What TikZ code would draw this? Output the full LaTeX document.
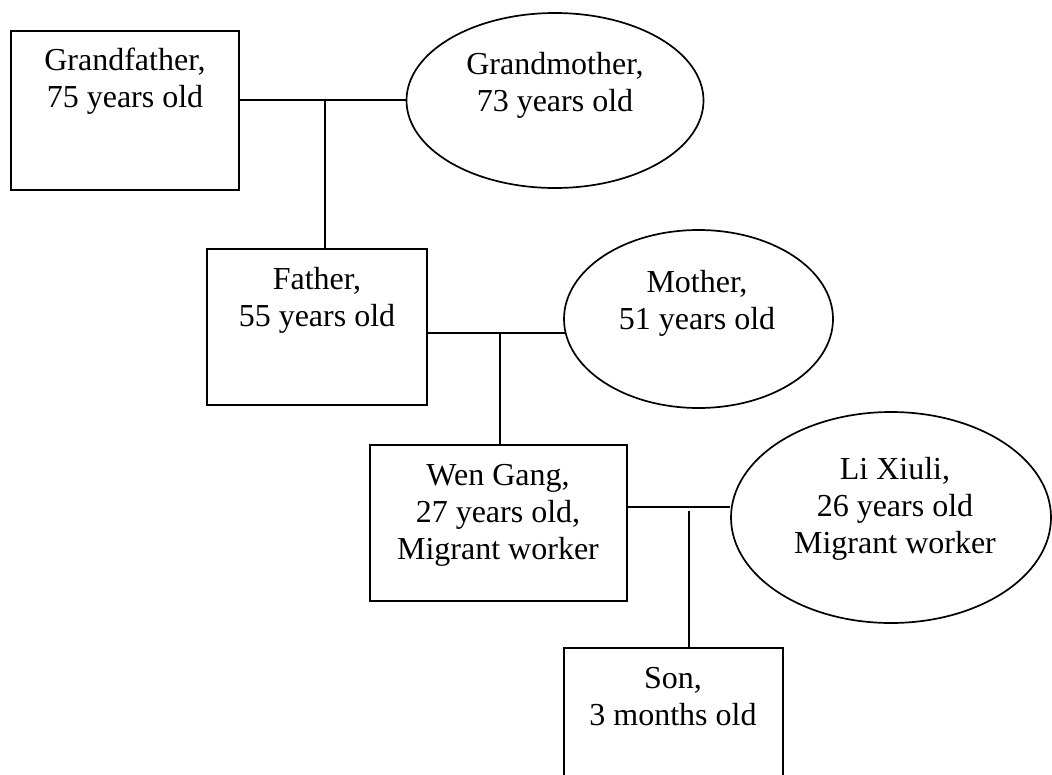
\documentclass[tikz,border=0pt]{standalone}
\usepackage{fontspec}
\setmainfont{Liberation Serif}
\usetikzlibrary{shapes.geometric}

\tikzset{
  member/.style={draw=black, line width=1.7pt, inner sep=0pt},
  malebox/.style={member, rectangle},
  femaleoval/.style={member, ellipse},
  % anchored on the baseline of the last line
  caption/.style={anchor=base, align=center, inner sep=0pt,
    font=\fontsize{32}{37}\selectfont},
  tie/.style={draw=black, line width=1.7pt}
}

\begin{document}
\begin{tikzpicture}[x=1pt, y=-1pt]
  \useasboundingbox (0,0) rectangle (1052,774);
  \fill[white] (0,0) rectangle (1052,774);
  \clip (0,0) rectangle (1052,774);

  % first generation
  \node[malebox, minimum width=228pt, minimum height=159pt] (gf) at (125,110.5) {};
  \node[femaleoval, minimum width=297pt, minimum height=175pt] (gm) at (555,100.5) {};
  \node[caption] (gftxt) at (125,107) {Grandfather,\\75 years old};
  \node[caption] (gmtxt) at (555,111.5) {Grandmother,\\73 years old};

  % second generation
  \node[malebox, minimum width=220pt, minimum height=156pt] (fa) at (317,327) {};
  \node[femaleoval, minimum width=269pt, minimum height=178pt] (mo) at (698.5,319) {};
  \node[caption] (fatxt) at (317,326.5) {Father,\\55 years old};
  \node[caption] (motxt) at (697,329) {Mother,\\51 years old};

  % third generation
  \node[malebox, minimum width=257pt, minimum height=156pt] (wg) at (498.5,523) {};
  \node[femaleoval, minimum width=320pt, minimum height=211pt] (lx) at (891,517.5) {};
  \node[caption] (wgtxt) at (498,559) {Wen Gang,\\27 years old,\\Migrant worker};
  \node[caption] (lxtxt) at (895,553) {Li Xiuli,\\26 years old\\Migrant worker};

  % fourth generation
  \node[malebox, minimum width=219pt, minimum height=156pt] (so) at (673.5,726) {};
  \node[caption] (sotxt) at (673,725) {Son,\\3 months old};

  % marriage lines and descent lines
  \coordinate (j1) at (325,100);
  \coordinate (j2) at (500,333);
  \coordinate (j3) at (689,507);

  \draw[tie] (gf.east |- j1) -- (gm.west |- j1);
  \draw[tie] (j1) -- (fa.north -| j1);

  \draw[tie] (fa.east |- j2) -- (j2 -| mo.186);
  \draw[tie] (j2) -- (wg.north -| j2);

  \draw[tie] (wg.east |- j3) -- (j3 -| lx.west);
  \draw[tie, shorten <=4pt] (j3) -- (so.north -| j3);
\end{tikzpicture}
\end{document}
